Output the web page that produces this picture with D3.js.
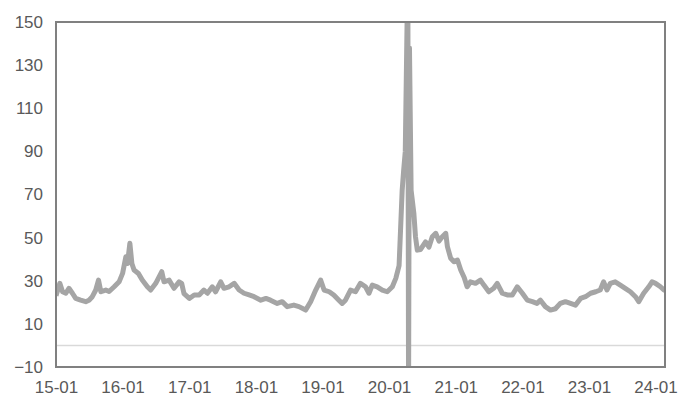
<!DOCTYPE html>
<html>
<head>
<meta charset="utf-8">
<script src="https://cdn.jsdelivr.net/npm/d3@7"></script>
<style>
  body { margin: 0; background: #fff; }
  text { font-family: "Liberation Sans", Arial, sans-serif; }
</style>
</head>
<body>
<div id="chart"></div>
<script>
// dates and values
const dates = [
  "2015-01-01","2015-01-22","2015-02-06","2015-02-24","2015-03-13","2015-04-01","2015-04-19","2015-05-16",
  "2015-06-13","2015-07-01","2015-07-19","2015-08-07","2015-08-22","2015-09-04","2015-10-01","2015-10-19",
  "2015-11-16","2015-12-13","2016-01-01","2016-01-19","2016-01-28","2016-02-10","2016-02-21","2016-03-04",
  "2016-03-28","2016-04-18","2016-05-16","2016-06-03","2016-07-01","2016-08-03","2016-08-15","2016-09-12",
  "2016-10-09","2016-11-06","2016-11-20","2016-12-03","2017-01-01","2017-01-28","2017-02-24","2017-03-22",
  "2017-04-10","2017-05-07","2017-05-25","2017-06-22","2017-07-10","2017-08-07","2017-09-04","2017-10-01",
  "2017-10-28","2017-11-25","2017-12-22","2018-01-28","2018-02-25","2018-03-22","2018-04-28","2018-05-25",
  "2018-06-22","2018-07-28","2018-08-25","2018-10-01","2018-10-28","2018-11-25","2018-12-22","2019-01-10",
  "2019-02-07","2019-03-04","2019-04-01","2019-04-19","2019-05-07","2019-06-04","2019-07-01","2019-07-28",
  "2019-08-25","2019-09-13","2019-10-01","2019-10-28","2019-11-25","2019-12-22","2020-01-19","2020-02-07",
  "2020-02-25","2020-03-04","2020-03-13","2020-03-21","2020-03-30","2020-04-13","2020-04-17","2020-04-22",
  "2020-05-01","2020-05-16","2020-05-25","2020-06-04","2020-06-22","2020-07-19","2020-08-07","2020-08-25",
  "2020-09-13","2020-10-01","2020-10-19","2020-11-07","2020-11-16","2020-12-04","2020-12-22","2021-01-10",
  "2021-01-28","2021-02-16","2021-03-04","2021-03-22","2021-04-19","2021-05-16","2021-06-04","2021-07-01",
  "2021-07-28","2021-08-16","2021-09-13","2021-10-10","2021-11-07","2021-12-04","2022-01-01","2022-01-28",
  "2022-02-25","2022-03-22","2022-04-10","2022-05-07","2022-06-04","2022-07-01","2022-07-28","2022-08-25",
  "2022-09-22","2022-10-19","2022-11-16","2022-12-13","2023-01-10","2023-02-07","2023-03-04","2023-03-22",
  "2023-04-10","2023-04-28","2023-05-25","2023-06-22","2023-07-19","2023-08-16","2023-09-13","2023-10-01",
  "2023-10-28","2023-11-25","2023-12-13","2024-01-01","2024-01-28","2024-02-16","2024-02-22"
];
const values = [
  23.0,28.8,24.9,24.2,26.5,24.2,21.8,21.0,
  20.3,21.0,22.6,25.7,30.3,24.9,25.7,25.0,
  27.2,29.5,33.4,41.1,38.0,47.4,38.0,35.0,
  33.4,30.3,27.2,25.7,28.8,34.2,29.5,30.3,
  26.5,29.5,28.8,24.0,21.8,23.4,23.4,25.7,
  24.2,27.2,24.9,29.5,26.5,27.2,28.8,25.7,
  24.2,23.4,22.6,21.0,21.8,21.0,19.5,20.3,
  18.0,18.7,18.0,16.4,20.3,25.7,30.3,25.7,
  24.9,23.4,21.0,19.5,21.0,25.7,24.9,28.8,
  27.2,24.2,28.0,27.2,25.7,24.9,27.2,31.1,
  37.0,53.5,72.0,81.0,90.0,175.0,-25.0,138.0,
  72.0,61.3,50.4,44.2,44.5,48.0,45.6,50.4,
  52.0,48.4,50.4,52.0,45.8,40.4,38.8,39.6,
  35.0,31.5,27.2,29.5,28.8,30.3,28.0,24.9,
  26.5,28.8,24.2,23.4,23.4,27.2,24.2,21.0,
  20.3,19.5,21.0,18.0,16.4,17.0,19.5,20.3,
  19.5,18.7,21.8,22.6,24.2,24.9,25.7,29.5,
  25.7,28.8,29.5,28.0,26.5,24.9,22.6,20.3,
  24.2,27.2,29.5,28.8,27.2,25.7,25.5
];
const yTicks = [-10, 10, 30, 50, 70, 90, 110, 130, 150];
const xTickYears = [2015, 2016, 2017, 2018, 2019, 2020, 2021, 2022, 2023, 2024];

const width = 688, height = 416;
const margin = {top: 22, right: 23, bottom: 49, left: 56};
const parse = d3.timeParse("%Y-%m-%d");
const data = dates.map((d, i) => ({date: parse(d), value: values[i]}));

const svg = d3.select("#chart").append("svg")
    .attr("width", width)
    .attr("height", height);

const x = d3.scaleTime()
    .domain([parse("2015-01-01"), parse("2024-02-22")])
    .range([margin.left, width - margin.right]);
const y = d3.scaleLinear()
    .domain([-10, 150])
    .range([height - margin.bottom, margin.top]);

svg.append("clipPath").attr("id", "plot")
  .append("rect")
    .attr("x", margin.left)
    .attr("y", margin.top)
    .attr("width", width - margin.left - margin.right)
    .attr("height", height - margin.top - margin.bottom);

// zero line
svg.append("line")
    .attr("x1", x.range()[0]).attr("x2", x.range()[1])
    .attr("y1", y(0)).attr("y2", y(0))
    .attr("stroke", "#d9d9d9")
    .attr("stroke-width", 1.5);

// series
svg.append("path")
    .datum(data)
    .attr("clip-path", "url(#plot)")
    .attr("fill", "none")
    .attr("stroke", "#a5a5a5")
    .attr("stroke-width", 5)
    .attr("stroke-linejoin", "round")
    .attr("d", d3.line().x(d => x(d.date)).y(d => y(d.value)));

// frame
svg.append("rect")
    .attr("x", margin.left)
    .attr("y", margin.top)
    .attr("width", width - margin.left - margin.right)
    .attr("height", height - margin.top - margin.bottom)
    .attr("fill", "none")
    .attr("stroke", "#808080")
    .attr("stroke-width", 2);

// y axis labels
const yAxis = svg.append("g")
    .attr("transform", `translate(${margin.left},0)`)
    .call(d3.axisLeft(y).tickValues(yTicks).tickSize(0).tickPadding(13));
yAxis.select(".domain").remove();
yAxis.selectAll("text")
    .style("font-family", "'Liberation Sans', Arial, sans-serif")
    .style("font-size", "17px")
    .attr("fill", "#595959");

// x axis labels
const xAxis = svg.append("g")
    .attr("transform", `translate(0,${height - margin.bottom})`)
    .call(d3.axisBottom(x)
        .tickValues(xTickYears.map(yr => new Date(yr, 0, 1)))
        .tickFormat(d3.timeFormat("%y-%m"))
        .tickSize(0).tickPadding(14));
xAxis.select(".domain").remove();
xAxis.selectAll("text")
    .style("font-family", "'Liberation Sans', Arial, sans-serif")
    .style("font-size", "17px")
    .attr("fill", "#595959");
</script>
</body>
</html>
